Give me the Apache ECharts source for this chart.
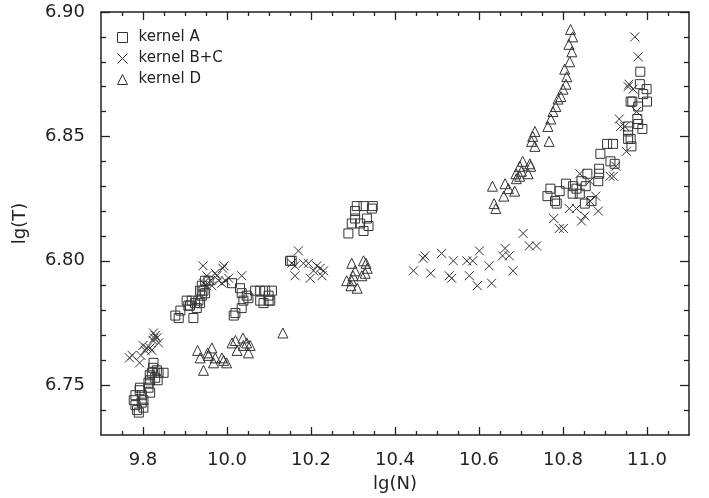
<!DOCTYPE html>
<html>
<head>
    <meta charset="utf-8">
    <title>lg(T) vs lg(N)</title>
    <script src="https://cdn.jsdelivr.net/npm/echarts@6/dist/echarts.min.js"></script>
    <style>
        body { margin: 0; background: #fff; }
        #chartmain { width: 709px; height: 498px; }
    </style>
</head>
<body>
<div id="chartmain"></div>
<script type="text/javascript">
    // tick positions
    var xMajor = [9.8, 10.0, 10.2, 10.4, 10.6, 10.8, 11.0];
    var xMinor = [9.75, 9.85, 9.9, 9.95, 10.05, 10.1, 10.15, 10.25, 10.3, 10.35, 10.45, 10.5, 10.55,
                  10.65, 10.7, 10.75, 10.85, 10.9, 10.95, 11.05];
    var yMajor = [6.75, 6.80, 6.85, 6.90];
    var yMinor = [6.74, 6.76, 6.77, 6.78, 6.79, 6.81, 6.82, 6.83, 6.84, 6.86, 6.87, 6.88, 6.89];

    // kernel A (squares)
    var kernelA = [
        [9.778,6.744],[9.782,6.742],[9.786,6.740],[9.790,6.739],[9.782,6.746],[9.792,6.748],[9.797,6.746],
        [9.801,6.744],[9.801,6.741],[9.793,6.749],[9.813,6.751],[9.817,6.752],[9.813,6.749],[9.817,6.747],
        [9.816,6.754],[9.821,6.755],[9.825,6.759],[9.824,6.757],[9.833,6.756],[9.837,6.755],[9.849,6.755],
        [9.829,6.753],[9.835,6.752],[9.797,6.743],
        [9.877,6.778],[9.885,6.777],[9.889,6.780],[9.920,6.777],[9.904,6.784],[9.912,6.782],[9.916,6.784],
        [9.908,6.782],[9.924,6.783],[9.928,6.781],[9.936,6.783],[9.932,6.784],[9.940,6.786],[9.944,6.788],
        [9.940,6.790],[9.948,6.792],[9.956,6.792],[9.936,6.788],[9.948,6.787],
        [10.012,6.791],[10.031,6.789],[10.035,6.787],[10.047,6.786],[10.039,6.784],[10.051,6.785],
        [10.020,6.779],[10.016,6.778],[10.035,6.781],[10.067,6.788],[10.079,6.788],[10.091,6.788],
        [10.099,6.786],[10.107,6.788],[10.079,6.784],[10.087,6.783],[10.099,6.784],[10.103,6.784],
        [10.150,6.800],[10.154,6.800],
        [10.309,6.822],[10.325,6.822],[10.345,6.821],[10.305,6.820],[10.333,6.817],[10.305,6.817],
        [10.297,6.815],[10.317,6.815],[10.337,6.814],[10.325,6.812],[10.289,6.811],[10.347,6.822],
        [10.770,6.829],[10.763,6.826],[10.792,6.828],[10.807,6.831],[10.824,6.830],[10.832,6.829],
        [10.844,6.832],[10.858,6.835],[10.823,6.827],[10.840,6.827],[10.854,6.830],[10.781,6.824],
        [10.785,6.823],[10.852,6.823],[10.868,6.824],[10.884,6.832],[10.886,6.835],[10.886,6.837],
        [10.889,6.843],
        [10.984,6.876],[10.983,6.871],[10.999,6.869],[10.991,6.867],[11.000,6.864],[10.965,6.864],
        [10.961,6.864],[10.979,6.862],[10.977,6.857],[10.979,6.855],[10.989,6.853],[10.955,6.854],
        [10.955,6.852],[10.955,6.849],[10.961,6.849],[10.963,6.846],[10.905,6.847],[10.919,6.847],
        [10.913,6.840],[10.923,6.839]
    ];

    // kernel B+C (crosses)
    var kernelBC = [
        [9.768,6.761],[9.774,6.762],[9.792,6.759],[9.795,6.762],[9.800,6.766],[9.805,6.764],[9.809,6.765],
        [9.817,6.765],[9.821,6.764],[9.825,6.771],[9.829,6.770],[9.824,6.768],[9.833,6.769],[9.837,6.767],
        [9.827,6.769],
        [9.943,6.798],[9.993,6.798],[9.990,6.797],[9.952,6.794],[9.960,6.792],[9.972,6.795],[9.980,6.792],
        [9.988,6.791],[9.996,6.792],[10.004,6.793],[10.035,6.794],[9.944,6.791],[9.964,6.790],[9.952,6.790],
        [9.976,6.794],
        [10.170,6.804],[10.154,6.799],[10.162,6.798],[10.182,6.799],[10.194,6.799],[10.214,6.798],
        [10.222,6.797],[10.162,6.794],[10.198,6.793],[10.226,6.794],[10.206,6.796],[10.230,6.796],
        [10.471,6.802],[10.467,6.801],[10.511,6.803],[10.539,6.800],[10.571,6.800],[10.585,6.800],
        [10.601,6.804],[10.444,6.796],[10.485,6.795],[10.529,6.794],[10.535,6.793],[10.577,6.794],
        [10.596,6.790],
        [10.624,6.798],[10.630,6.791],[10.662,6.805],[10.656,6.802],[10.672,6.802],[10.681,6.796],
        [10.705,6.811],[10.720,6.806],[10.737,6.806],[10.778,6.817],[10.791,6.813],[10.801,6.813],
        [10.815,6.821],[10.832,6.821],[10.844,6.816],[10.852,6.818],[10.884,6.820],[10.878,6.826],
        [10.864,6.824],[10.840,6.835],[10.864,6.832],
        [10.971,6.890],[10.979,6.882],[10.957,6.871],[10.955,6.870],[10.967,6.869],[10.934,6.857],
        [10.937,6.854],[10.947,6.854],[10.975,6.860],[10.951,6.844],[10.926,6.838],[10.920,6.834],
        [10.912,6.834]
    ];

    // kernel D (triangles)
    var kernelD = [
        [9.930,6.764],[9.936,6.761],[9.954,6.763],[9.956,6.762],[9.964,6.765],[9.944,6.756],[9.972,6.761],
        [9.968,6.759],[9.988,6.761],[9.992,6.760],[9.999,6.759],[10.012,6.767],[10.020,6.768],[10.024,6.764],
        [10.038,6.769],[10.039,6.766],[10.047,6.767],[10.051,6.763],[10.055,6.766],[10.133,6.771],
        [10.297,6.799],[10.325,6.800],[10.331,6.799],[10.334,6.797],[10.305,6.796],[10.321,6.794],
        [10.285,6.792],[10.297,6.792],[10.295,6.790],[10.310,6.789],[10.329,6.795],[10.300,6.794],
        [10.632,6.830],[10.662,6.831],[10.670,6.829],[10.659,6.826],[10.685,6.828],[10.636,6.823],
        [10.640,6.821],[10.704,6.840],[10.721,6.839],[10.723,6.838],[10.697,6.838],[10.688,6.835],
        [10.717,6.835],[10.697,6.834],[10.689,6.833],[10.701,6.836],[10.725,6.848],[10.733,6.846],
        [10.767,6.848],
        [10.728,6.850],[10.733,6.852],[10.764,6.854],[10.771,6.857],[10.776,6.860],[10.783,6.862],
        [10.788,6.865],[10.795,6.866],[10.800,6.869],[10.807,6.871],[10.809,6.874],[10.804,6.877],
        [10.816,6.880],[10.821,6.884],[10.814,6.887],[10.823,6.890],[10.818,6.893]
    ];

    var ink = '#222';
    var font = 'DejaVu Sans';

    function xAxisOf(pos, ticks, len, labels, line) {
        return {
            type: 'value', position: pos, min: 9.7, max: 11.1,
            axisLine: { show: line, lineStyle: { color: ink, width: 1.5 } },
            axisTick: { show: true, inside: true, length: len, customValues: ticks,
                        lineStyle: { color: ink, width: 1.3 } },
            axisLabel: labels ? { show: true, customValues: ticks, color: ink, fontFamily: font, fontSize: 18,
                                  margin: 16, formatter: function (v) { return v.toFixed(1); } }
                              : { show: false },
            splitLine: { show: false }
        };
    }
    function yAxisOf(pos, ticks, len, labels, line) {
        return {
            type: 'value', position: pos, min: 6.73, max: 6.90,
            axisLine: { show: line, lineStyle: { color: ink, width: 1.5 } },
            axisTick: { show: true, inside: true, length: len, customValues: ticks,
                        lineStyle: { color: ink, width: 1.3 } },
            axisLabel: labels ? { show: true, customValues: ticks, color: ink, fontFamily: font, fontSize: 18,
                                  margin: 16, formatter: function (v) { return v.toFixed(2); } }
                              : { show: false },
            splitLine: { show: false }
        };
    }

    var xs = [
        xAxisOf('bottom', xMajor, 8, true, true),
        xAxisOf('bottom', xMinor, 4, false, false),
        xAxisOf('top', xMajor, 8, false, true),
        xAxisOf('top', xMinor, 4, false, false)
    ];
    xs[0].name = 'lg(N)';
    xs[0].nameLocation = 'middle';
    xs[0].nameGap = 40;
    xs[0].nameTextStyle = { color: ink, fontFamily: font, fontSize: 18 };

    var ys = [
        yAxisOf('left', yMajor, 9, true, true),
        yAxisOf('left', yMinor, 5, false, false),
        yAxisOf('right', yMajor, 9, false, true),
        yAxisOf('right', yMinor, 5, false, false)
    ];
    ys[0].name = 'lg(T)';
    ys[0].nameLocation = 'middle';
    ys[0].nameGap = 72;
    ys[0].nameTextStyle = { color: ink, fontFamily: font, fontSize: 18 };

    function series(name, data, symbol, size) {
        return {
            name: name, type: 'scatter', data: data, xAxisIndex: 0, yAxisIndex: 0,
            symbol: symbol, symbolSize: size,
            itemStyle: { color: 'rgba(0,0,0,0)', borderColor: '#333', borderWidth: 1, opacity: 1 },
            emphasis: { disabled: true }
        };
    }

    var myChart = echarts.init(document.getElementById('chartmain'));
    myChart.setOption({
        animation: false,
        backgroundColor: '#fff',
        grid: { left: 101, right: 20, top: 12, bottom: 63 },
        legend: {
            orient: 'vertical', left: 117, top: 30, padding: 0,
            itemWidth: 10, itemHeight: 10, itemGap: 6,
            itemStyle: { color: 'rgba(0,0,0,0)', borderColor: '#333', borderWidth: 1 },
            textStyle: { color: ink, fontFamily: font, fontSize: 15, lineHeight: 15, padding: [0, 0, 0, 6] },
            data: ['kernel A', 'kernel B+C', 'kernel D']
        },
        xAxis: xs,
        yAxis: ys,
        series: [
            series('kernel A', kernelA, 'rect', 9),
            series('kernel B+C', kernelBC, 'path://M0,0L10,10M10,0L0,10', 9),
            series('kernel D', kernelD, 'triangle', 10)
        ]
    });
</script>
</body>
</html>
